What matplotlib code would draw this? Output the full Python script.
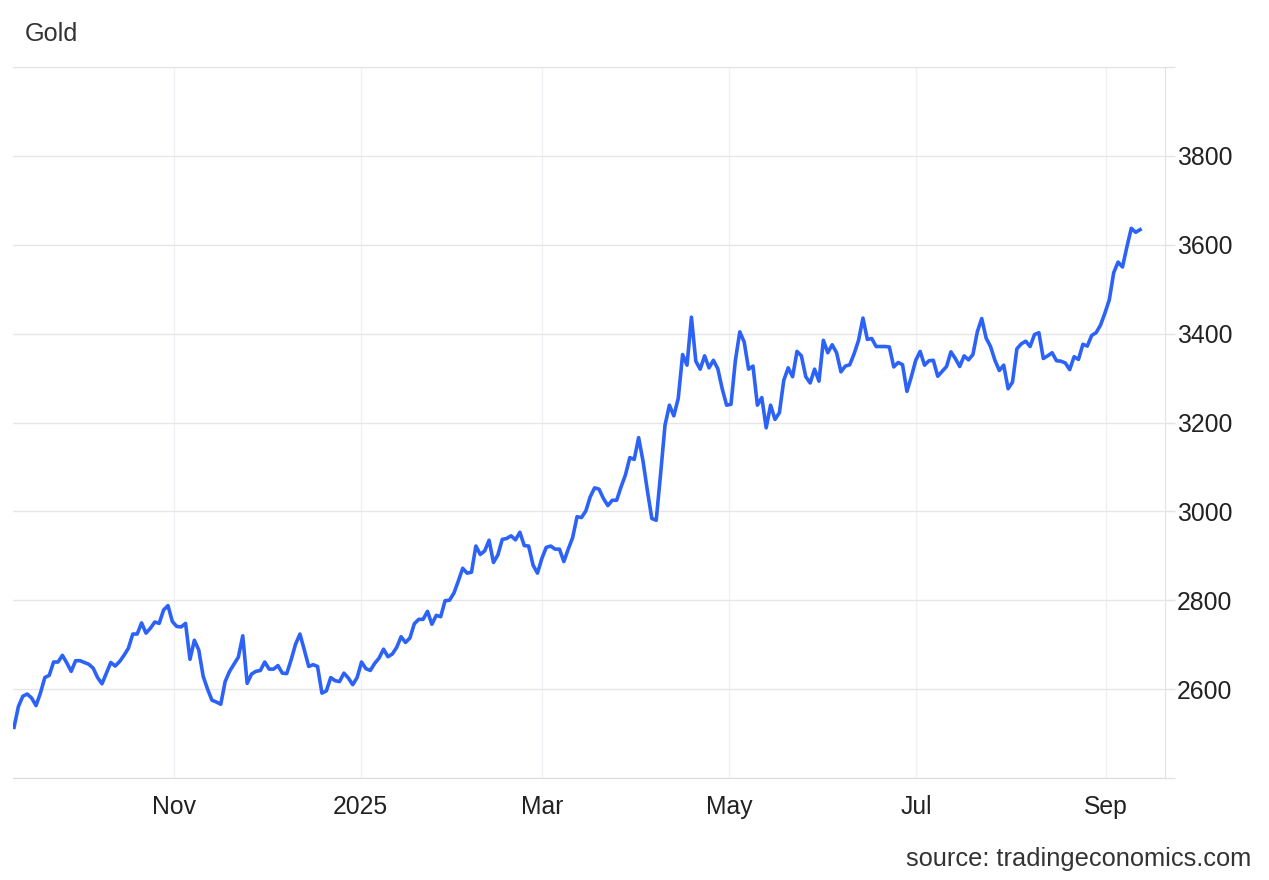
import matplotlib
matplotlib.use("Agg")
import matplotlib.pyplot as plt
import matplotlib.dates as mdates
import matplotlib.ticker as mticker
import pandas as pd

plt.rcParams["font.family"] = ["Liberation Sans", "DejaVu Sans"]

# daily gold price (USD/t.oz)
start, end = "2024-09-10", "2025-09-12"
gold = [
    2514, 2561, 2584, 2589, 2580, 2563, 2591, 2626, 2631, 2661,
    2661, 2676, 2659, 2640, 2664, 2664, 2660, 2656, 2647, 2626,
    2612, 2636, 2660, 2652, 2662, 2676, 2692, 2724, 2724, 2749,
    2726, 2737, 2751, 2748, 2778, 2788, 2752, 2741, 2740, 2748,
    2667, 2710, 2688, 2629, 2600, 2575, 2571, 2566, 2617, 2640,
    2656, 2672, 2720, 2613, 2634, 2640, 2642, 2661, 2645, 2645,
    2653, 2636, 2635, 2666, 2701, 2724, 2688, 2651, 2655, 2651,
    2591, 2596, 2626, 2619, 2617, 2636, 2625, 2610, 2626, 2661,
    2646, 2642, 2658, 2670, 2690, 2673, 2679, 2694, 2718, 2705,
    2715, 2747, 2757, 2757, 2775, 2746, 2766, 2763, 2799, 2800,
    2816, 2843, 2872, 2861, 2863, 2922, 2903, 2911, 2935, 2885,
    2902, 2937, 2939, 2945, 2936, 2953, 2923, 2922, 2879, 2861,
    2894, 2919, 2922, 2915, 2915, 2887, 2915, 2941, 2988, 2986,
    3001, 3033, 3053, 3050, 3029, 3013, 3025, 3025, 3055, 3082,
    3121, 3117, 3166, 3113, 3046, 2984, 2980, 3085, 3194, 3239,
    3215, 3254, 3353, 3329, 3437, 3338, 3320, 3350, 3323, 3340,
    3321, 3276, 3239, 3241, 3340, 3404, 3381, 3320, 3327, 3239,
    3256, 3188, 3239, 3207, 3222, 3295, 3323, 3303, 3360, 3350,
    3303, 3289, 3320, 3293, 3385, 3357, 3375, 3357, 3314, 3327,
    3330, 3355, 3385, 3435, 3387, 3389, 3371, 3371, 3371, 3370,
    3325, 3335, 3330, 3270, 3303, 3340, 3360, 3329, 3339, 3340,
    3304, 3315, 3326, 3359, 3344, 3326, 3350, 3341, 3353, 3404,
    3434, 3390, 3371, 3340, 3317, 3329, 3276, 3291, 3366, 3377,
    3383, 3371, 3398, 3402, 3344, 3350, 3357, 3339, 3338, 3334,
    3319, 3348, 3342, 3376, 3372, 3396, 3402, 3419, 3446, 3476,
    3537, 3561, 3550, 3595, 3637, 3628, 3634,
]
dates = pd.date_range(start, end, periods=len(gold))

yticks = [2400, 2600, 2800, 3000, 3200, 3400, 3600, 3800, 4000]
labelled = [2600, 2800, 3000, 3200, 3400, 3600, 3800]

fig = plt.figure(figsize=(12.69, 8.8), dpi=100)
ax = fig.add_axes([13 / 1269, 1 - 778 / 880, (1165 - 13) / 1269, (778 - 67) / 880])

ax.plot(dates, gold, color="#2c63f6", lw=2.6, solid_joinstyle="round", zorder=3)

ax.set_xlim(pd.Timestamp(start) - pd.Timedelta(hours=8), pd.Timestamp("2025-09-20 03:00"))
ax.set_ylim(yticks[0], yticks[-1])

ax.xaxis.set_major_locator(mdates.MonthLocator(bymonth=[1, 3, 5, 7, 9, 11]))
ax.xaxis.set_major_formatter(
    mticker.FuncFormatter(
        lambda v, _: mdates.num2date(v).strftime("%Y" if mdates.num2date(v).month == 1 else "%b")
    )
)
ax.set_yticks(yticks)
ax.yaxis.set_major_formatter(mticker.FuncFormatter(lambda v, _: f"{v:.0f}" if v in labelled else ""))

ax.yaxis.tick_right()
ax.tick_params(axis="y", length=7, width=1, color="#e3e3e3", pad=1.5, labelsize=17.8, labelcolor="#222222")
ax.tick_params(axis="x", length=0, pad=12.5, labelsize=17.8, labelcolor="#222222")

ax.grid(axis="y", color="#e6e6e6", lw=1)
ax.grid(axis="x", color="#eef1f6", lw=1)
ax.set_axisbelow(True)

ax.spines["left"].set_visible(False)
for side in ["top", "right"]:
    ax.spines[side].set_color("#e3e3e3")
ax.spines["bottom"].set_color("#dcdcdc")

fig.text(25 / 1269, 1 - 34 / 880, "Gold", fontsize=18.2, color="#333333", va="center", ha="left")
fig.text(1251 / 1269, 1 - 859 / 880, "source: tradingeconomics.com", fontsize=18.3,
         color="#333333", va="center", ha="right")

fig.savefig("out.png", dpi=100)
